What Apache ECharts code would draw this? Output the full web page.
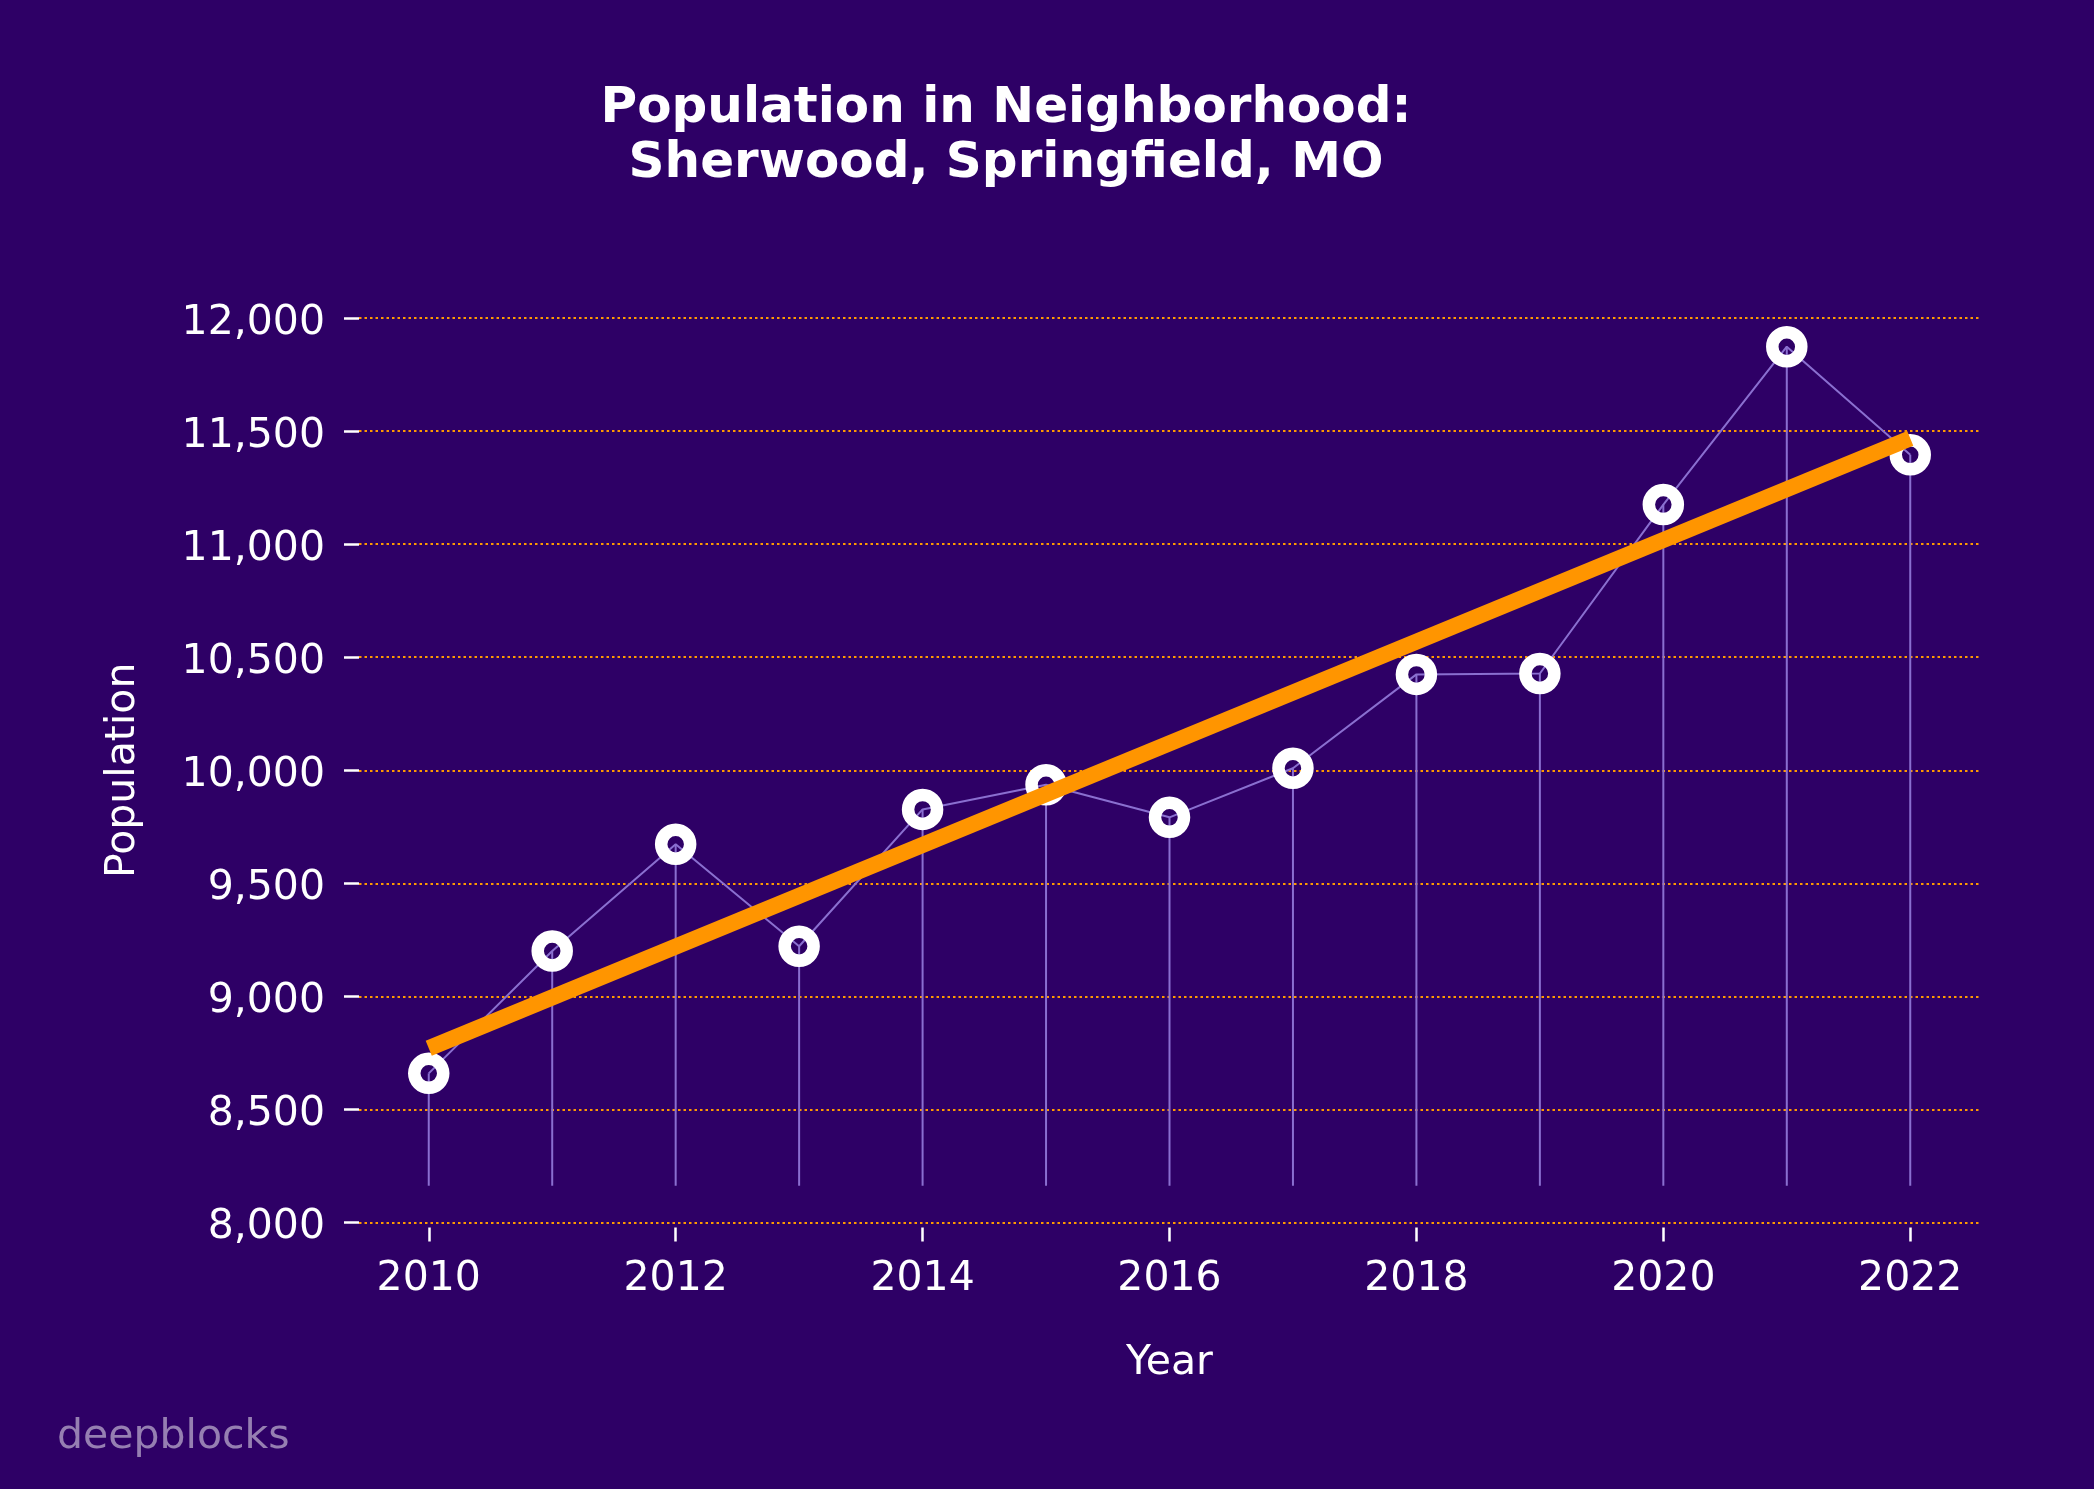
<!DOCTYPE html>
<html>
<head>
<meta charset="utf-8">
<script src="https://cdn.jsdelivr.net/npm/echarts@6/dist/echarts.min.js"></script>
<style>
html,body{margin:0;padding:0;background:#2E0066;}
#chart{width:2094px;height:1489px;}
</style>
</head>
<body>
<div id="chart"></div>
<script>
const years = [2010, 2011, 2012, 2013, 2014, 2015, 2016, 2017, 2018, 2019, 2020, 2021, 2022];
const population = [8660, 9201, 9673, 9222, 9827, 9936, 9792, 10009, 10424, 10428, 11175, 11873, 11395];
const trendYears = [2010, 2022];
const trendValues = [8771, 11468];
const dropBase = 8163;
const xTicks = [2010, 2012, 2014, 2016, 2018, 2020, 2022];
const yTicks = [8000, 8500, 9000, 9500, 10000, 10500, 11000, 11500, 12000];
const xRange = [2009.435, 2022.565];

const BG = '#2E0066';
const LINE = '#8a6fd0';
const FONT = 'DejaVu Sans';

const chart = echarts.init(document.getElementById('chart'), null, {renderer: 'canvas'});

const option = {
  backgroundColor: BG,
  animation: false,
  title: {
    text: 'Population in Neighborhood:\nSherwood, Springfield, MO',
    left: 1001,
    top: 77,
    textAlign: 'center',
    textStyle: {color: '#ffffff', fontFamily: FONT, fontWeight: 'bold', fontSize: 50, lineHeight: 55}
  },
  graphic: [{
    type: 'text',
    left: 57,
    top: 1417,
    style: {text: 'deepblocks', fill: '#967fb2', font: '41px "DejaVu Sans"'}
  }],
  grid: {left: 359, right: 114, top: 318, bottom: 266.4, containLabel: false},
  xAxis: {
    type: 'value',
    min: xRange[0],
    max: xRange[1],
    offset: 5,
    name: 'Year',
    nameLocation: 'middle',
    nameGap: 115,
    nameTextStyle: {color: '#ffffff', fontFamily: FONT, fontSize: 41},
    axisLine: {show: false},
    axisTick: {show: true, customValues: xTicks, length: 14, lineStyle: {color: '#ffffff', width: 2.5}},
    axisLabel: {show: true, customValues: xTicks, margin: 31, color: '#ffffff', fontFamily: FONT, fontSize: 41,
      formatter: v => String(Math.round(v))},
    splitLine: {show: false}
  },
  yAxis: {
    type: 'value',
    min: yTicks[0],
    max: yTicks[yTicks.length - 1],
    interval: yTicks[1] - yTicks[0],
    name: 'Population',
    nameLocation: 'middle',
    nameGap: 215,
    nameRotate: 90,
    nameTextStyle: {color: '#ffffff', fontFamily: FONT, fontSize: 41},
    axisLine: {show: false},
    axisTick: {show: true, length: 15, lineStyle: {color: '#ffffff', width: 2.5}},
    axisLabel: {margin: 34, color: '#ffffff', fontFamily: FONT, fontSize: 41, verticalAlign: 'top', lineHeight: 10,
      formatter: v => v.toLocaleString('en-US')},
    splitLine: {show: true, lineStyle: {color: '#ff9900', width: 2, type: [2.5, 3]}}
  },
  series: [
    {
      type: 'custom',
      z: 1,
      data: years.map((y, i) => [y, population[i]]),
      renderItem: function (params, api) {
        const top = api.coord([api.value(0), api.value(1)]);
        const bot = api.coord([api.value(0), dropBase]);
        return {
          type: 'line',
          shape: {x1: bot[0], y1: bot[1], x2: top[0], y2: top[1]},
          style: {stroke: LINE, lineWidth: 2}
        };
      }
    },
    {
      type: 'line',
      z: 2,
      data: years.map((y, i) => [y, population[i]]),
      lineStyle: {color: LINE, width: 2},
      symbol: 'circle',
      symbolSize: 29,
      itemStyle: {color: 'rgba(0,0,0,0)', borderColor: '#ffffff', borderWidth: 12.5},
      emphasis: {disabled: true}
    },
    {
      type: 'line',
      z: 3,
      data: trendYears.map((y, i) => [y, trendValues[i]]),
      lineStyle: {color: '#ff9500', width: 16, cap: 'butt'},
      symbol: 'none',
      emphasis: {disabled: true}
    }
  ]
};
chart.setOption(option);
</script>
</body>
</html>
